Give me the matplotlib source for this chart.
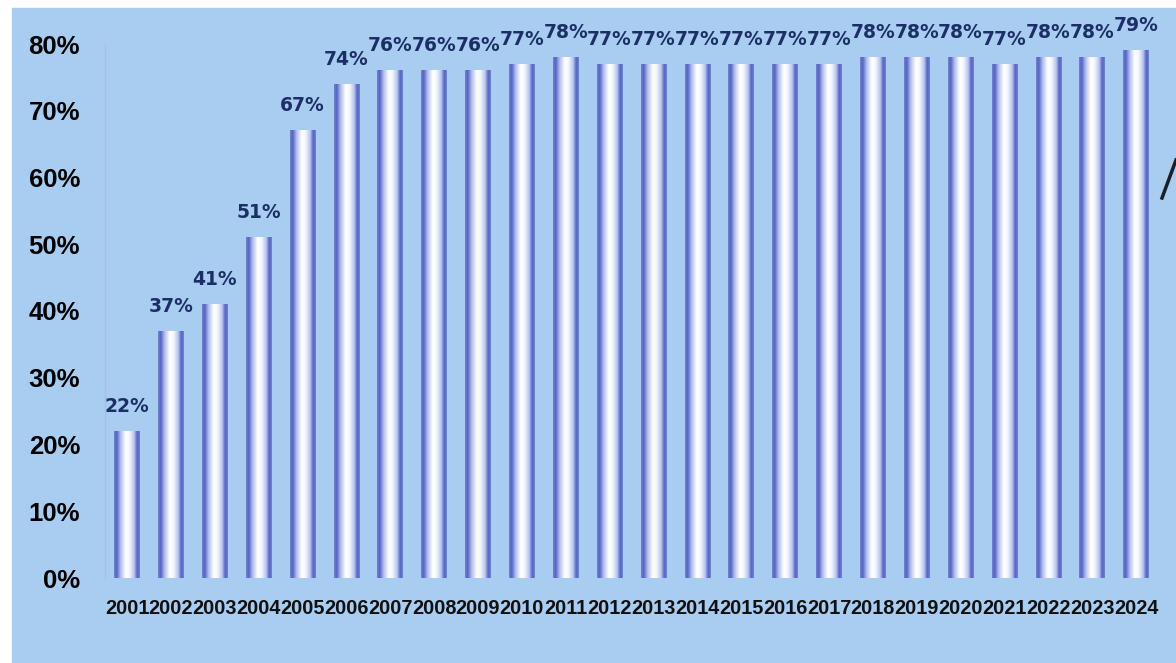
#---------------------------------------------------------------
#  percentual anual - barras com gradiente
#---------------------------------------------------------------
import numpy as np
import matplotlib.pyplot as plt
from matplotlib.colors import LinearSegmentedColormap
from matplotlib.patches import Rectangle
from matplotlib.lines import Line2D

# dados
anos = ['2001', '2002', '2003', '2004', '2005', '2006', '2007', '2008',
        '2009', '2010', '2011', '2012', '2013', '2014', '2015', '2016',
        '2017', '2018', '2019', '2020', '2021', '2022', '2023', '2024']
valores = [22, 37, 41, 51, 67, 74, 76, 76, 76, 77, 78, 77,
           77, 77, 77, 77, 77, 78, 78, 78, 77, 78, 78, 79]
yticks = [0, 10, 20, 30, 40, 50, 60, 70, 80]

fundo = '#a9cdf0'
cor_rotulo = '#1c2e66'

# gradiente horizontal da barra: borda azul, centro branco
cmap = LinearSegmentedColormap.from_list('barra', [
    (0.00, '#7283d4'), (0.10, '#5463c0'), (0.25, '#aebdee'),
    (0.45, '#ffffff'), (0.60, '#f4f7fe'), (0.78, '#b8c6f0'),
    (0.90, '#5463c0'), (1.00, '#7283d4')])
grad = np.linspace(0, 1, 128).reshape(1, -1)

fig = plt.figure(figsize=(11.76, 6.63), dpi=100)
fig.patch.set_facecolor('white')
fig.add_artist(Rectangle((12 / 1176, 0), 1, (663 - 8) / 663,
                         transform=fig.transFigure, color=fundo, zorder=-1))

ax = fig.add_axes([105 / 1176, 85 / 663, 1053 / 1176, 534 / 663])
ax.set_facecolor('none')

largura = 0.58
x = np.arange(len(anos))
for xi, v in zip(x, valores):
    ax.imshow(grad, extent=[xi - largura / 2, xi + largura / 2, 0, v],
              aspect='auto', cmap=cmap, zorder=2, interpolation='bilinear')
    ax.annotate(f'{v}%', (xi, v), xytext=(0, 11), textcoords='offset points',
                ha='center', va='bottom', fontsize=13.5, fontweight='bold',
                family='DejaVu Sans', color=cor_rotulo, annotation_clip=False)

ax.set_xlim(-0.5, len(anos) - 0.5)
ax.set_ylim(0, 80)

ax.set_yticks(yticks)
ax.set_yticklabels([f'{t}%' for t in yticks], fontsize=18.5, fontweight='bold',
                   family='Liberation Sans', color='black')
ax.set_xticks(x)
ax.set_xticklabels(anos, fontsize=14.3, fontweight='bold',
                   family='Liberation Sans', color='#111111')
ax.tick_params(axis='y', length=0, pad=18)
ax.tick_params(axis='x', length=0, pad=15)

for lado in ['top', 'right', 'bottom']:
    ax.spines[lado].set_visible(False)
ax.spines['left'].set_color('#9fc2e6')
ax.spines['left'].set_linewidth(1)

# risco de caneta na margem direita
fig.add_artist(Line2D([1162 / 1176, 1176 / 1176], [1 - 198 / 663, 1 - 160 / 663],
                      transform=fig.transFigure, color='#1a1f2a', lw=2.5))

plt.savefig('out.png', dpi=100)
